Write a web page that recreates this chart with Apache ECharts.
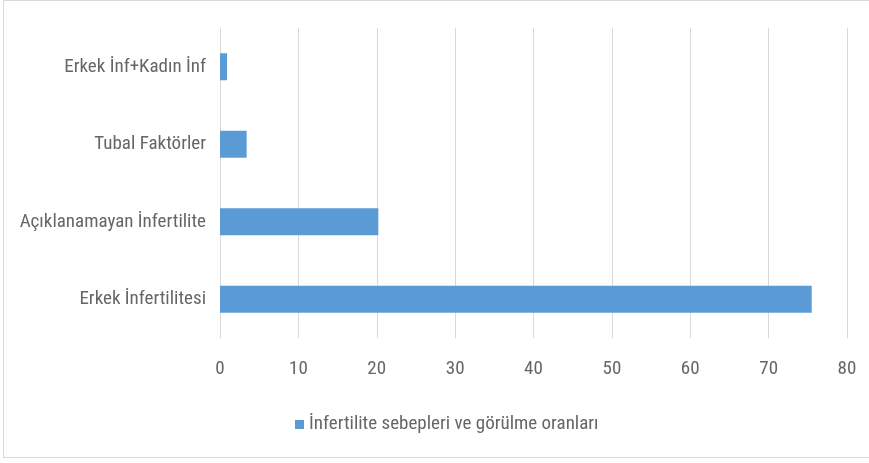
<!DOCTYPE html>
<html>
<head>
<meta charset="utf-8">
<script src="https://cdn.jsdelivr.net/npm/echarts@6/dist/echarts.min.js"></script>
<style>
html,body{margin:0;padding:0;background:#fff;}
#frame{position:absolute;left:3px;top:0;width:870px;height:458px;border:1px solid #d9d9d9;box-sizing:border-box;}
#chart{position:absolute;left:0;top:0;width:869px;height:463px;}
</style>
</head>
<body>
<div id="frame"></div>
<div id="chart"></div>
<script>
// kategoriler (alttan üste)
var categories = ['Erkek İnfertilitesi', 'Açıklanamayan İnfertilite', 'Tubal Faktörler', 'Erkek İnf+Kadın İnf'];
var values = [75.5, 20.2, 3.4, 0.9];
var seriesName = 'İnfertilite sebepleri ve görülme oranları';
var xTicks = [0, 80, 10]; // min, max, aralik

var font = "'Liberation Sans Narrow', 'Roboto Condensed', 'Liberation Sans', sans-serif";
var textColor = '#666666';

var chart = echarts.init(document.getElementById('chart'));
chart.setOption({
    animation: false,
    grid: {left: 220, right: 22, top: 28, height: 310, containLabel: false},
    legend: {
        data: [{name: seriesName, icon: 'rect'}],
        bottom: 24,
        left: 290,
        itemWidth: 9,
        itemHeight: 9,
        itemGap: 3,
        textStyle: {color: textColor, fontSize: 19, fontFamily: font}
    },
    xAxis: {
        type: 'value',
        min: xTicks[0],
        max: xTicks[1],
        interval: xTicks[2],
        axisLine: {show: false},
        axisTick: {show: false},
        axisLabel: {color: textColor, fontSize: 19, fontFamily: font, margin: 22},
        splitLine: {lineStyle: {color: '#d9d9d9', width: 1}}
    },
    yAxis: {
        type: 'category',
        data: categories,
        axisLine: {lineStyle: {color: '#d9d9d9'}},
        axisTick: {show: false},
        axisLabel: {color: textColor, fontSize: 19, fontFamily: font, margin: 14}
    },
    series: [{
        name: seriesName,
        type: 'bar',
        data: values,
        barWidth: 27,
        itemStyle: {color: '#5b9bd5'}
    }]
});
</script>
</body>
</html>
